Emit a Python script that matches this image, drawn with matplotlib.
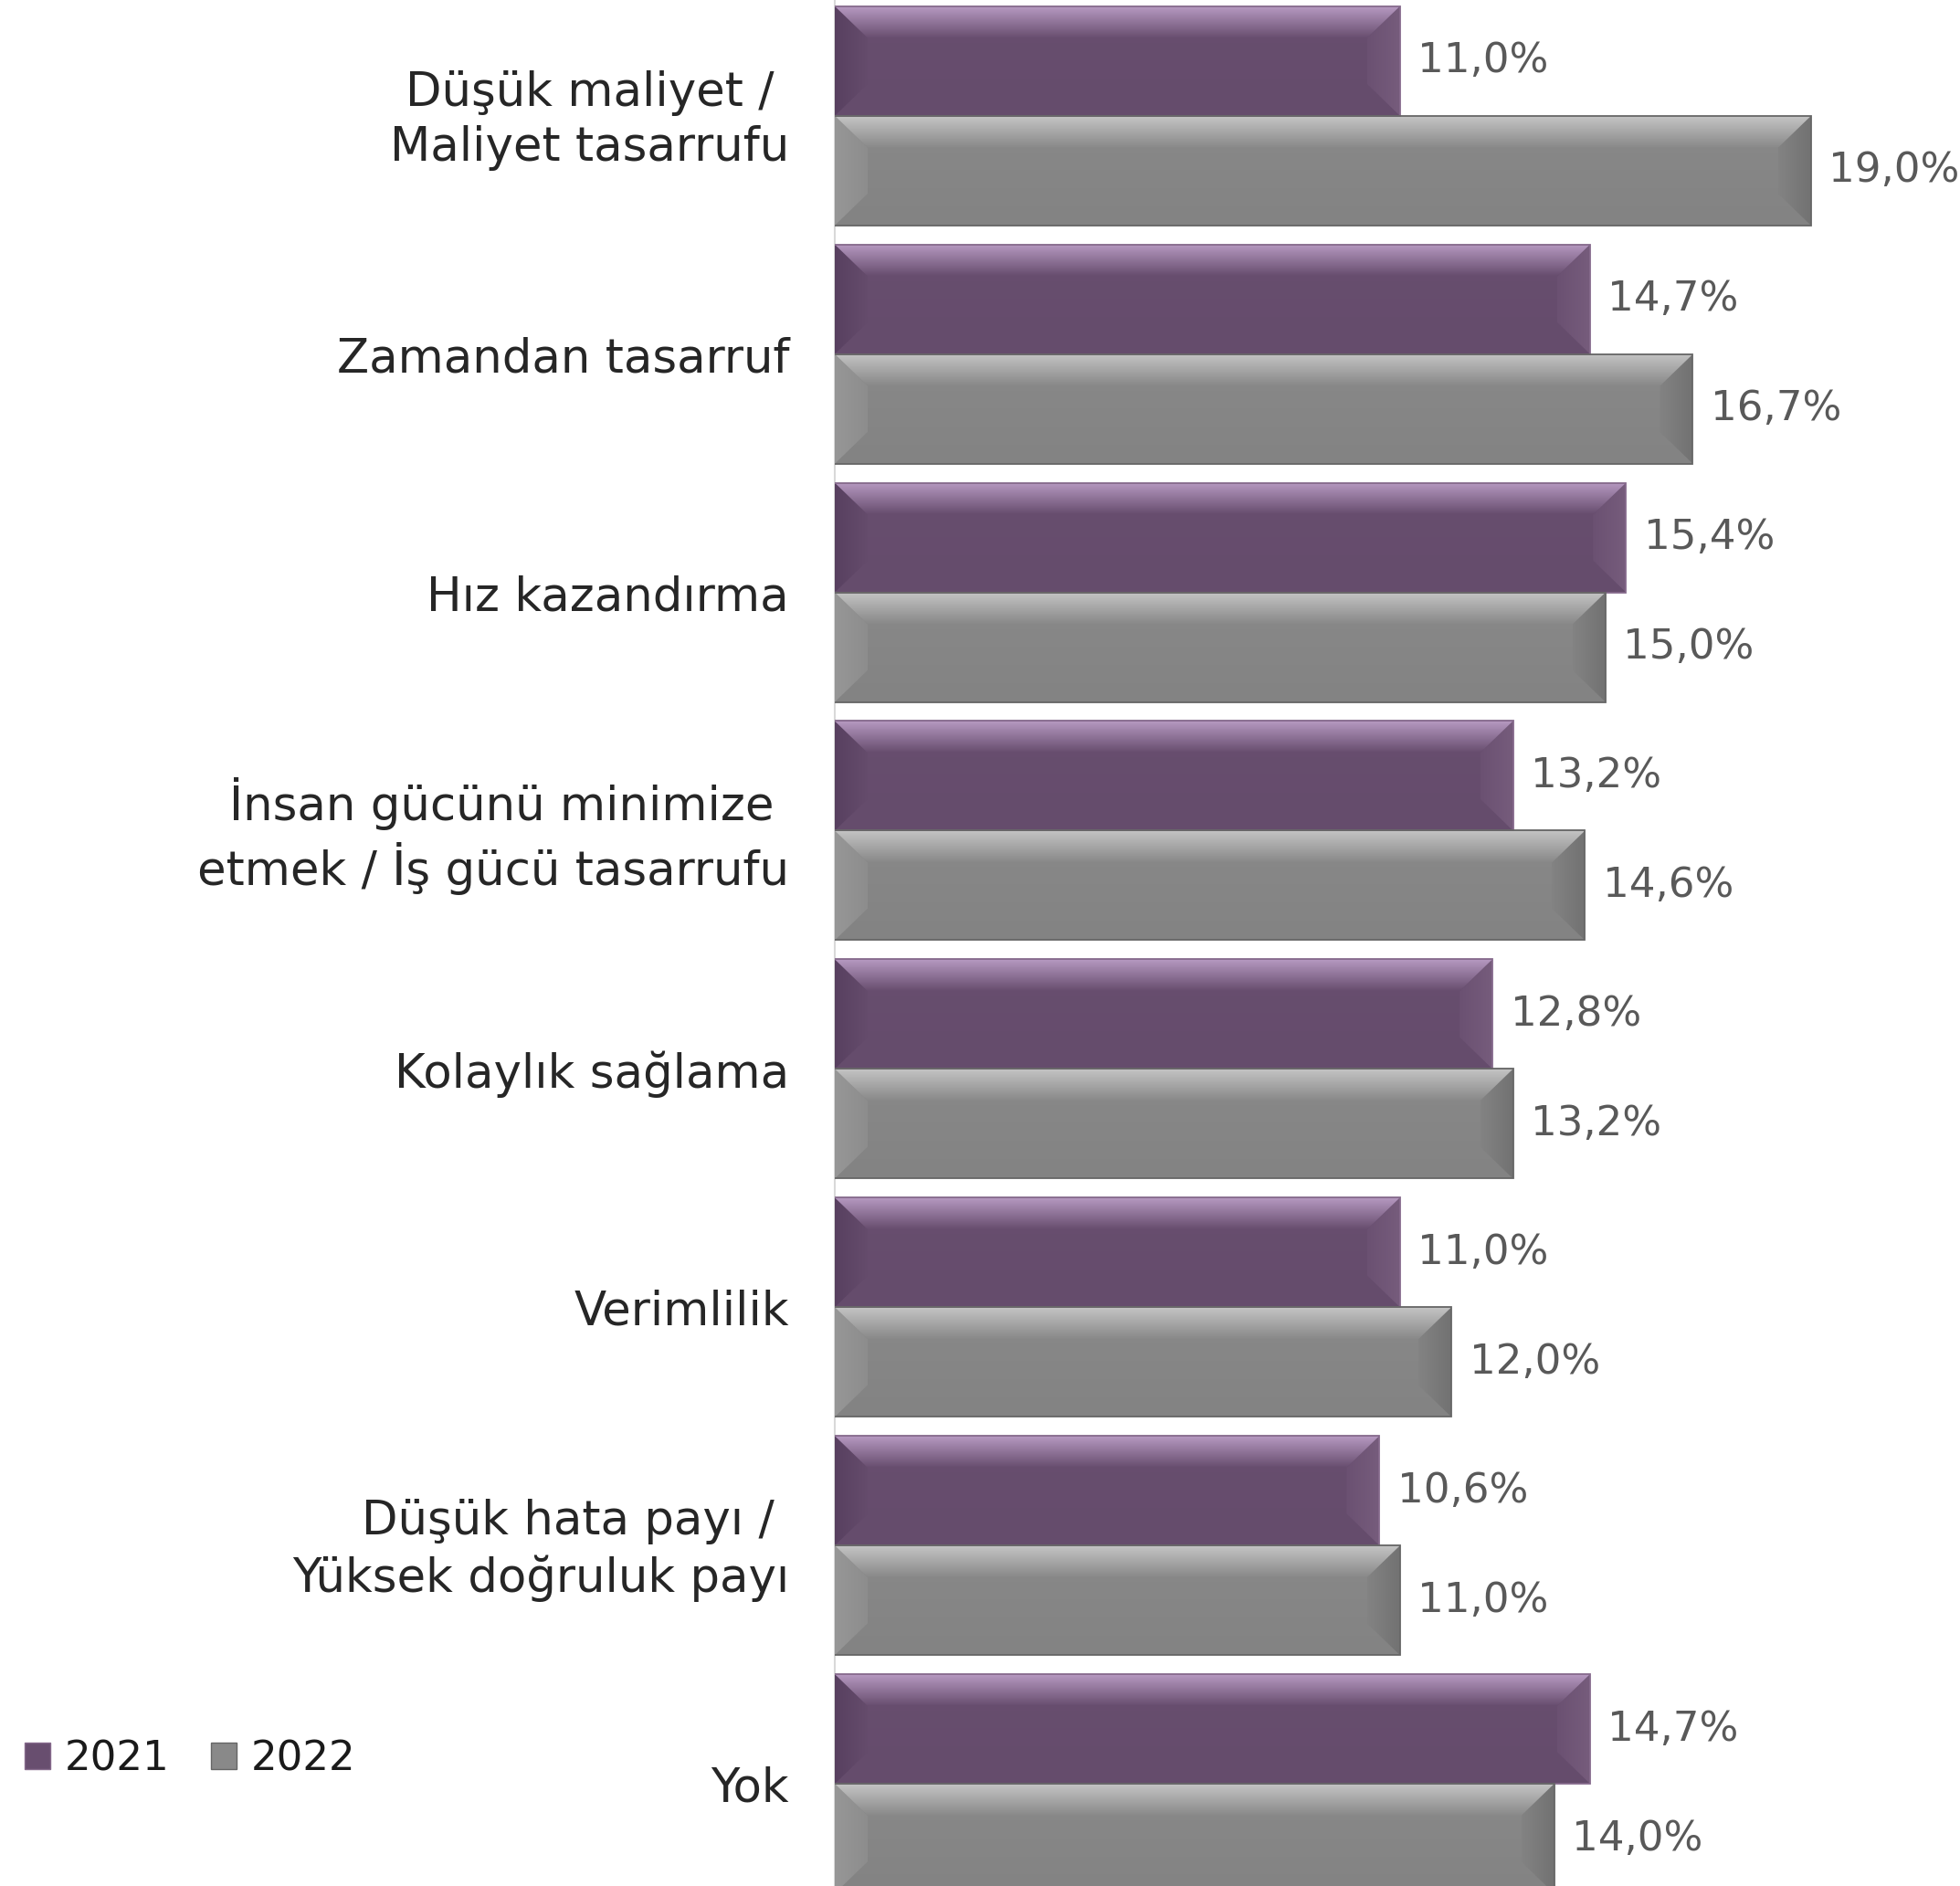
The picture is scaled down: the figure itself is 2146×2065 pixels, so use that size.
import matplotlib
matplotlib.use("Agg")
import matplotlib.pyplot as plt
import matplotlib.transforms as mtransforms
import numpy as np
from matplotlib.patches import Polygon, Patch
from matplotlib.colors import LinearSegmentedColormap

categories = [
    "Düşük maliyet / \nMaliyet tasarrufu",
    "Zamandan tasarruf",
    "Hız kazandırma",
    "İnsan gücünü minimize \netmek / İş gücü tasarrufu",
    "Kolaylık sağlama",
    "Verimlilik",
    "Düşük hata payı / \nYüksek doğruluk payı",
    "Yok",
]
series_names = ["2021", "2022"]
values_2021 = [11.0, 14.7, 15.4, 13.2, 12.8, 11.0, 10.6, 14.7]
values_2022 = [19.0, 16.7, 15.0, 14.6, 13.2, 12.0, 11.0, 14.0]

# style: main, top highlight, left bevel (outer, inner), right bevel, bottom, edge
styles = {
    "2021": dict(main="#684E6F", top="#B699C1", left_out="#584060", left_in="#654C6C",
                 right_out="#765C7C", right_in="#6B5172", bottom="#654C6C",
                 edge="#866A8C"),
    "2022": dict(main="#898989", top="#C4C4C4", left_out="#979797", left_in="#8D8D8D",
                 right_out="#727272", right_in="#838383", bottom="#838383",
                 edge="#666666"),
}

W, H = 2146, 2065
fig = plt.figure(figsize=(W / 100, H / 100), dpi=100)
ax_left = 914 / W
ax = fig.add_axes([ax_left, 0, 1 - ax_left, 1])
XMAX = 21.9
YLIM = (7.429, -0.486)

n = len(categories)
y = np.arange(n)
bh = 0.46
off = 0.23

containers = []
for vals, name, sign in [(values_2021, "2021", -1), (values_2022, "2022", 1)]:
    st = styles[name]
    c = ax.barh(y + sign * off, vals, height=bh, color=st["main"], edgecolor="none",
                zorder=2, label=name)
    containers.append((c, vals, st))

ax.set_xlim(0, XMAX)
ax.set_ylim(*YLIM)

# bevel overlays computed from each bar's geometry
px_per_x = (1 - ax_left) * W / XMAX
bx = 36 / px_per_x


def grad_fill(poly, extent, c0, c1, horizontal, origin="upper"):
    cmap = LinearSegmentedColormap.from_list("g", [c0, c1])
    g = np.linspace(0, 1, 64)
    img = g.reshape(1, -1) if horizontal else g.reshape(-1, 1)
    im = ax.imshow(img, cmap=cmap, extent=extent, origin=origin, aspect="auto",
                   zorder=poly.get_zorder(), interpolation="bilinear")
    im.set_clip_path(poly)


for c, vals, st in containers:
    for rect in c.patches:
        x0 = rect.get_x()
        x1 = x0 + rect.get_width()
        ya = rect.get_y()
        yb = ya + rect.get_height()
        yt, ybot = min(ya, yb), max(ya, yb)  # yt is visually top (inverted axis)
        by = 0.29 * (ybot - yt)
        body = Polygon([(x0, yt), (x1, yt), (x1, ybot), (x0, ybot)], closed=True,
                       facecolor="none", edgecolor="none", zorder=2.5)
        ax.add_patch(body)
        grad_fill(body, (x0, x1, ybot, yt), st["main"], st["bottom"], False)
        left = Polygon([(x0, yt), (x0 + bx, yt + by), (x0 + bx, ybot - by), (x0, ybot)],
                       closed=True, facecolor="none", edgecolor="none", zorder=3)
        right = Polygon([(x1, yt), (x1 - bx, yt + by), (x1 - bx, ybot - by), (x1, ybot)],
                        closed=True, facecolor="none", edgecolor="none", zorder=3)
        top = Polygon([(x0, yt), (x1, yt), (x1 - bx, yt + by), (x0 + bx, yt + by)],
                      closed=True, facecolor="none", edgecolor="none", zorder=4)
        for p in (left, right, top):
            ax.add_patch(p)
        grad_fill(left, (x0, x0 + bx, ybot, yt), st["left_out"], st["left_in"], True)
        grad_fill(right, (x1 - bx, x1, ybot, yt), st["right_in"], st["right_out"], True)
        grad_fill(top, (x0, x1, yt + by, yt), st["top"], st["main"], False)
        ax.plot([x0, x1, x1, x0], [yt, yt, ybot, ybot], color=st["edge"],
                lw=1.3, zorder=5, solid_joinstyle="miter")

ax.set_xlim(0, XMAX)
ax.set_ylim(*YLIM)

for c, vals, st in containers:
    labels = [f"{v:.1f}%".replace(".", ",") for v in vals]
    ax.bar_label(c, labels=labels, padding=14, fontsize=32.5, color="#595959",
                 clip_on=False)

ax.set_yticks(y)
ax.set_yticklabels(categories, fontsize=37, color="#262626", linespacing=1.27)
ax.tick_params(axis="y", length=0, pad=36)
shift = mtransforms.ScaledTranslation(0, 4 / 72, fig.dpi_scale_trans)
for lbl in ax.get_yticklabels():
    if "\n" in lbl.get_text():
        lbl.set_transform(lbl.get_transform() + shift)
ax.set_xticks([])
for s in ("top", "right", "bottom"):
    ax.spines[s].set_visible(False)
ax.spines["left"].set_color("#D9D9D9")
ax.spines["left"].set_linewidth(1.5)
ax.set_facecolor("none")

handles = [Patch(facecolor=styles[nm]["main"], edgecolor=styles[nm]["edge"], label=nm)
           for nm in series_names]
fig.legend(handles=handles, loc="center left", bbox_to_anchor=(27 / W, 0.0673),
           ncol=2, frameon=False, fontsize=32.5, handlelength=0.62, handleheight=0.62,
           handletextpad=0.35, columnspacing=1.0, borderpad=0, borderaxespad=0,
           labelcolor="#1a1a1a")

fig.savefig("out.png", dpi=100)
